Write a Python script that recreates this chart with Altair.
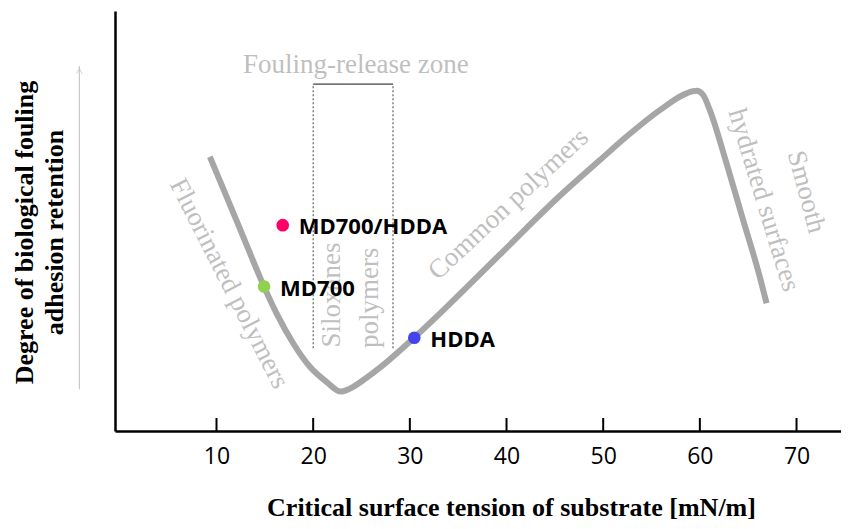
import altair as alt
import pandas as pd

# ---- data ----
curve_x = [9.31, 11.04, 12.76, 14.48, 16.21, 17.93, 19.66, 21.38, 22.86, 24.13, 25.16, 27.23,
           30.44, 39.31, 45.52, 49.66, 52.42, 55.86, 58.62, 59.66, 60.34, 61.03, 62.76, 64.48,
           66.2, 66.9]
curve_y = [65.3, 55.8, 46.3, 36.7, 28.0, 20.9, 15.3, 11.7, 9.4, 10.5, 12.1, 15.7,
           22.2, 42.0, 56.0, 64.5, 70.1, 76.4, 80.4, 81.0, 80.0, 76.4, 63.7, 50.2,
           36.7, 30.4]

point_names = ["MD700/HDDA", "MD700", "HDDA"]
point_x = [16.85, 14.92, 30.46]
point_y = [49.0, 34.4, 22.2]
point_colors = ["#ff0066", "#92d050", "#4444ee"]

tick_values = [10, 20, 30, 40, 50, 60, 70]

zone_x = [20.0, 28.26]
zone_top = [82.6]
zone_bottom = [19.7]

region_texts = ["Fouling-release zone", "Fluorinated polymers", "Siloxanes", "polymers",
                "Common polymers", "Smooth", "hydrated  surfaces"]
region_x = [24.41, 11.3, 21.9, 25.9, 40.2, 71.0, 66.6]
region_y = [87.1, 35.1, 32.4, 31.7, 54.0, 56.9, 55.0]
region_angle = [0, 63, 270, 270, 317, 75, 73]

arrow_x = [-4.19]
arrow_bottom = [9.9]
arrow_top = [86.9]

x_title = "Critical surface tension of substrate [mN/m]"
y_title = ["Degree of biological fouling", "adhesion retention"]

# ---- tables ----
curve_df = pd.DataFrame({"x": curve_x, "y": curve_y, "order": list(range(len(curve_x)))})
points_df = pd.DataFrame({"name": point_names, "x": point_x, "y": point_y, "color": point_colors})
ticks_df = pd.DataFrame({"x": tick_values})
zone_df = pd.DataFrame({"x": zone_x, "y": zone_bottom * 2, "y2": zone_top * 2})
zone_top_df = pd.DataFrame({"x": [zone_x[0]], "x2": [zone_x[1]], "y": zone_top})
region_df = pd.DataFrame({"text": region_texts, "x": region_x, "y": region_y, "angle": region_angle})
arrow_df = pd.DataFrame({"x": arrow_x, "y": arrow_bottom, "y2": arrow_top})

xs = alt.Scale(domain=[-0.5, 74.6], nice=False, zero=False)
ys = alt.Scale(domain=[0, 100], nice=False, zero=False)

curve = alt.Chart(curve_df).mark_line(
    color="#a6a6a6", strokeWidth=6, interpolate="monotone", strokeJoin="round"
).encode(
    x=alt.X("x:Q", scale=xs, axis=alt.Axis(
        values=tick_values, ticks=False, tickSize=0, grid=False,
        labelFont="Open Sans", labelFontSize=23, labelColor="black", labelPadding=14,
        domainColor="black", domainWidth=2.5,
        title=x_title, titleFont="Liberation Serif", titleFontSize=26,
        titleFontWeight="bold", titleColor="black", titleX=396, titleY=84,
        titleBaseline="alphabetic", titleAlign="center")),
    y=alt.Y("y:Q", scale=ys, axis=alt.Axis(
        ticks=False, labels=False, grid=False, domainColor="black", domainWidth=2.5,
        title=y_title, titleFont="Liberation Serif", titleFontSize=26,
        titleFontWeight="bold", titleColor="black", titleAngle=270,
        titleX=-91, titleY=221, titleBaseline="middle", titleAlign="center",
        titleLineHeight=30)),
    order="order:Q",
)

tick_marks = alt.Chart(ticks_df).mark_rule(color="black", strokeWidth=2).encode(
    x=alt.X("x:Q", scale=xs),
    y=alt.datum(0, scale=ys),
    y2=alt.datum(3.1),
)

zone_sides = alt.Chart(zone_df).mark_rule(color="#404040", strokeWidth=1, strokeDash=[2, 2]).encode(
    x=alt.X("x:Q", scale=xs),
    y=alt.Y("y:Q", scale=ys),
    y2="y2:Q",
)
zone_line = alt.Chart(zone_top_df).mark_rule(color="#404040", strokeWidth=1.2).encode(
    x=alt.X("x:Q", scale=xs),
    x2="x2:Q",
    y=alt.Y("y:Q", scale=ys),
)

regions = alt.Chart(region_df).mark_text(
    font="Liberation Serif", fontSize=27, color="#bfbfbf", align="center", baseline="middle"
).encode(
    x=alt.X("x:Q", scale=xs),
    y=alt.Y("y:Q", scale=ys),
    text="text:N",
    angle=alt.Angle("angle:Q", scale=None),
)

arrow_shaft = alt.Chart(arrow_df).mark_rule(color="#bfbfbf", strokeWidth=1).encode(
    x=alt.X("x:Q", scale=xs),
    y=alt.Y("y:Q", scale=ys),
    y2="y2:Q",
)
arrow_head = alt.Chart(arrow_df).mark_point(
    shape="M-0.5,0.45L0,-0.45L0.5,0.45", filled=False, color="#bfbfbf", size=121,
    strokeWidth=1, yOffset=5
).encode(
    x=alt.X("x:Q", scale=xs),
    y=alt.Y("y2:Q", scale=ys),
)

pts = alt.Chart(points_df).mark_circle(size=160, opacity=1).encode(
    x=alt.X("x:Q", scale=xs),
    y=alt.Y("y:Q", scale=ys),
    color=alt.Color("color:N", scale=None),
)
pt_labels = alt.Chart(points_df).mark_text(
    align="left", baseline="middle", dx=16, dy=2, font="Open Sans", fontWeight="bold",
    fontSize=22, color="black"
).encode(
    x=alt.X("x:Q", scale=xs),
    y=alt.Y("y:Q", scale=ys),
    text="name:N",
)

chart = alt.layer(
    curve, zone_sides, zone_line, regions, tick_marks, arrow_shaft, arrow_head, pts, pt_labels
).properties(
    width=726, height=420,
    autosize=alt.AutoSizeParams(type="none"),
    padding={"left": 107, "top": 3, "right": 0, "bottom": 90},
).configure_view(stroke=None)

chart.save("out.html", embed_options={"renderer": "svg", "actions": False})
